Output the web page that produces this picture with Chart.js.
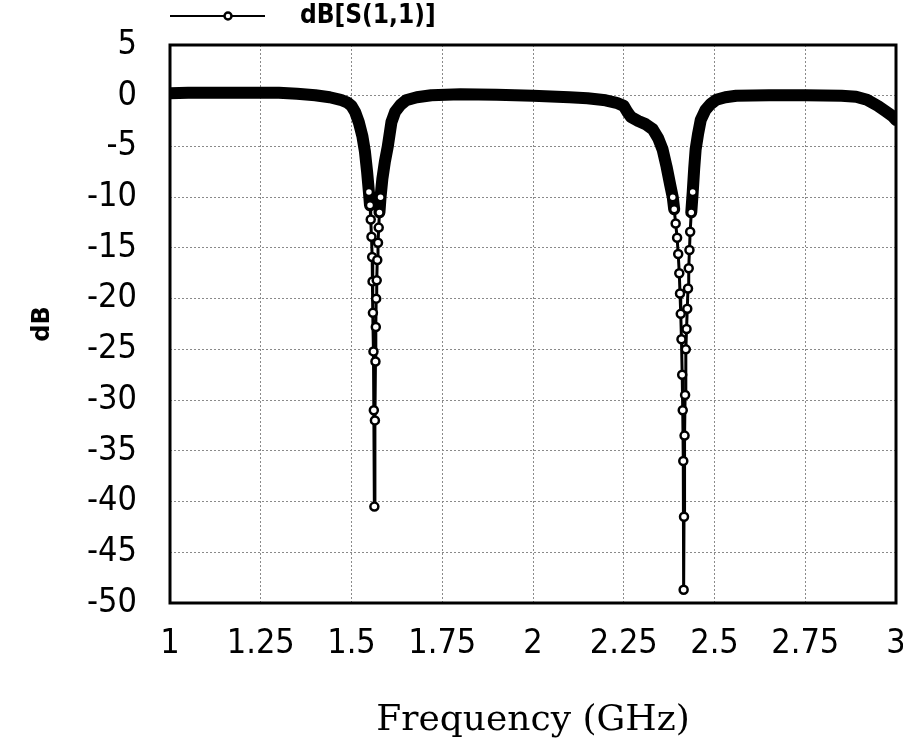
<!DOCTYPE html>
<html>
<head>
<meta charset="utf-8">
<title>dB[S(1,1)]</title>
<script src="https://cdn.jsdelivr.net/npm/chart.js@4/dist/chart.umd.min.js"></script>
<style>
    html, body { margin: 0; padding: 0; background: #fff; }
    #wrap { width: 903px; height: 745px; }
</style>
</head>
<body>
<div id="wrap"><canvas id="myChart" width="903" height="745"></canvas></div>
<script>
'use strict';

// frequency points (GHz) and the matching S11 values (dB)
var freqGHz = [
    1.00, 1.05, 1.10, 1.15, 1.20, 1.25, 1.30, 1.35, 1.40, 1.44,
    1.47, 1.49, 1.50, 1.51, 1.52, 1.53, 1.537, 1.543, 1.548,
    1.551, 1.553, 1.555, 1.557, 1.558, 1.559, 1.5605, 1.5615, 1.563,
    1.5645, 1.566, 1.567, 1.568, 1.5695, 1.571, 1.573, 1.575, 1.577,
    1.580, 1.585, 1.592, 1.60, 1.61, 1.62, 1.635, 1.65, 1.68, 1.72,
    1.80, 1.90, 2.00, 2.10, 2.15, 2.20, 2.23, 2.25, 2.26, 2.27,
    2.29, 2.31, 2.33, 2.345, 2.357, 2.368, 2.378, 2.385,
    2.389, 2.393, 2.397, 2.400, 2.403, 2.405, 2.407, 2.409, 2.411,
    2.4125, 2.414, 2.415, 2.416, 2.4175, 2.419, 2.421, 2.423, 2.425,
    2.427, 2.429, 2.431, 2.433, 2.436, 2.440, 2.444, 2.448, 2.455,
    2.462, 2.475, 2.49, 2.505, 2.53, 2.56, 2.65, 2.75, 2.85, 2.89,
    2.92, 2.95, 2.97, 2.99, 3.00
];
var s11dB = [
    0.25, 0.3, 0.3, 0.3, 0.3, 0.3, 0.3, 0.2, 0.05, -0.15,
    -0.4, -0.7, -1.0, -1.6, -2.6, -4.0, -5.5, -7.5, -9.5,
    -10.8, -12.2, -13.9, -15.9, -18.3, -21.4, -25.2, -31, -40.5,
    -32, -26.2, -22.8, -20, -18.2, -16.2, -14.5, -13, -11.5,
    -10, -8.2, -6.5, -5, -2.6, -1.6, -0.9, -0.45, -0.15, 0.05,
    0.15, 0.1, 0.0, -0.15, -0.25, -0.45, -0.7, -1.0, -1.6, -2.1,
    -2.5, -2.8, -3.3, -4.2, -5.3, -7, -8.8, -10,
    -11.2, -12.6, -14, -15.6, -17.5, -19.5, -21.5, -24, -27.5,
    -31, -36, -48.7, -41.5, -33.5, -29.5, -25, -23, -21,
    -19, -17, -15.2, -13.4, -11.5, -9.5, -7.2, -5.3, -3.7,
    -2.4, -1.4, -0.8, -0.4, -0.15, 0.0, 0.05, 0.05, 0.0, -0.1,
    -0.4, -1.0, -1.5, -2.0, -2.4
];
var seriesLabel = 'dB[S(1,1)]';
var xTicks = [1, 1.25, 1.5, 1.75, 2, 2.25, 2.5, 2.75, 3];
var yTicks = [5, 0, -5, -10, -15, -20, -25, -30, -35, -40, -45, -50];

var narrow = "'Liberation Sans Narrow', 'DejaVu Sans Condensed', sans-serif";

// legend icon: line with a small ring marker on it
var legendIcon = document.createElement('canvas');
legendIcon.width = 117;
legendIcon.height = 14;
(function() {
    var c = legendIcon.getContext('2d');
    c.strokeStyle = '#000';
    c.lineWidth = 2;
    c.beginPath();
    c.moveTo(0, 7);
    c.lineTo(95, 7);
    c.stroke();
    c.fillStyle = '#fff';
    c.beginPath();
    c.arc(58, 7, 3.5, 0, Math.PI * 2);
    c.fill();
    c.lineWidth = 2.5;
    c.stroke();
})();

var points = freqGHz.map(function(f, i) {
    return {x: f, y: s11dB[i]};
});

var frameBox = {
    id: 'frameBox',
    beforeLayout: function(chart) {
        var lg = chart.legend;
        if (lg && !lg._gapPatched) {
            var fit = lg.fit;
            lg.fit = function() {
                fit.call(this);
                this.height += 6;
            };
            lg._gapPatched = true;
        }
    },
    beforeDatasetsDraw: function(chart) {
        var a = chart.chartArea;
        var ctx = chart.ctx;
        ctx.save();
        ctx.strokeStyle = '#000';
        ctx.lineWidth = 3;
        ctx.strokeRect(a.left, a.top, a.right - a.left, a.bottom - a.top);
        ctx.restore();
    }
};

var ctx = document.getElementById('myChart').getContext('2d');
var chart = new Chart(ctx, {
    type: 'line',
    data: {
        datasets: [{
            label: seriesLabel,
            data: points,
            borderColor: '#000',
            backgroundColor: '#fff',
            borderWidth: 3,
            borderJoinStyle: 'round',
            borderCapStyle: 'round',
            pointStyle: 'circle',
            pointRadius: function(c) {
                var v = c.raw && c.raw.y;
                return v < -9 ? 4 : 0;
            },
            pointBorderWidth: 2.5,
            pointBorderColor: '#000',
            pointBackgroundColor: '#fff',
            tension: 0,
            segment: {
                borderWidth: function(c) {
                    return (c.p0.parsed.y >= -12 && c.p1.parsed.y >= -12) ? 12 : 3;
                }
            }
        }]
    },
    options: {
        responsive: false,
        animation: false,
        layout: {padding: {top: 3, right: 0, bottom: 0, left: 0}},
        plugins: {
            tooltip: {enabled: false},
            legend: {
                display: true,
                position: 'top',
                align: 'start',
                fullSize: false,
                labels: {
                    usePointStyle: true,
                    pointStyleWidth: 117,
                    padding: 0,
                    color: '#000',
                    font: {family: narrow, size: 26, weight: 'bold'},
                    generateLabels: function(chart) {
                        return [{
                            text: seriesLabel,
                            pointStyle: legendIcon,
                            fillStyle: '#fff',
                            strokeStyle: '#000',
                            lineWidth: 0,
                            datasetIndex: 0
                        }];
                    }
                }
            }
        },
        scales: {
            x: {
                type: 'linear',
                min: 1,
                max: 3,
                afterFit: function(scale) {
                    scale.height = 142;
                    scale.paddingRight = 7;
                },
                afterBuildTicks: function(scale) {
                    scale.ticks = xTicks.map(function(v) { return {value: v}; });
                },
                ticks: {
                    color: '#000',
                    padding: 21,
                    maxRotation: 0,
                    autoSkip: false,
                    font: {family: narrow, size: 34},
                    callback: function(v) { return String(v); }
                },
                grid: {
                    drawTicks: false,
                    color: function(c) {
                        return (c.tick.value === 1 || c.tick.value === 3) ? 'rgba(0,0,0,0)' : '#8a8a8a';
                    },
                    lineWidth: 1
                },
                border: {display: false, dash: [2, 2]},
                title: {
                    display: true,
                    text: 'Frequency (GHz)',
                    color: '#000',
                    font: {family: "'DejaVu Serif', serif", size: 36},
                    padding: {top: 0, bottom: 3}
                }
            },
            y: {
                type: 'linear',
                min: -50,
                max: 5,
                afterFit: function(scale) {
                    scale.width = 170;
                    scale.paddingTop = 0;
                    scale.paddingBottom = 0;
                },
                afterBuildTicks: function(scale) {
                    scale.ticks = yTicks.map(function(v) { return {value: v}; });
                },
                ticks: {
                    color: '#000',
                    padding: 33,
                    autoSkip: false,
                    font: {family: narrow, size: 34},
                    callback: function(v) { return String(v); }
                },
                grid: {
                    drawTicks: false,
                    color: function(c) {
                        return (c.tick.value === 5 || c.tick.value === -50) ? 'rgba(0,0,0,0)' : '#8a8a8a';
                    },
                    lineWidth: 1
                },
                border: {display: false, dash: [2, 2]},
                title: {
                    display: true,
                    text: 'dB',
                    color: '#000',
                    font: {family: "'DejaVu Sans', sans-serif", size: 24, weight: 'bold'},
                    padding: {top: 28, bottom: 0}
                }
            }
        }
    },
    plugins: [frameBox]
});
</script>
</body>
</html>
